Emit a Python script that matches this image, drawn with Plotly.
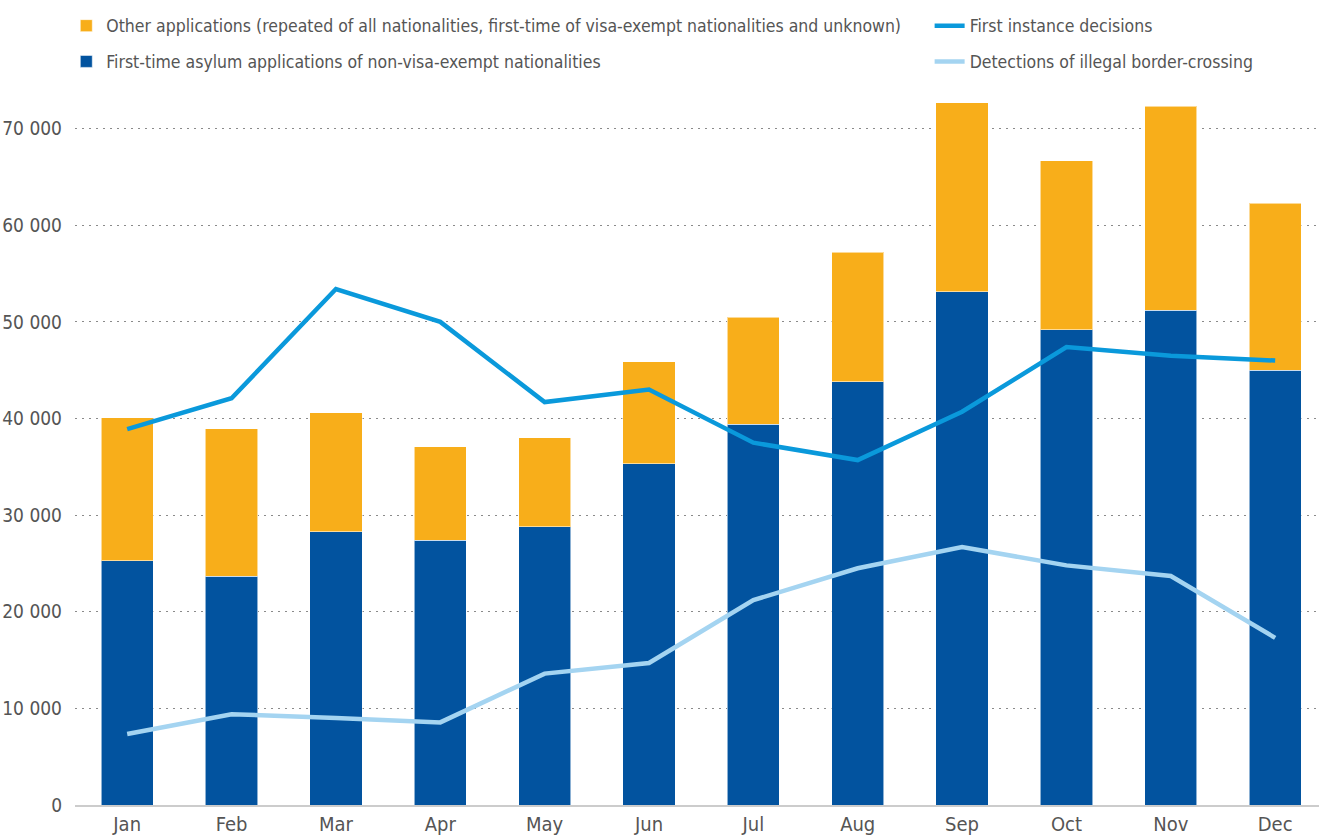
import plotly.graph_objects as go

months = ["Jan", "Feb", "Mar", "Apr", "May", "Jun", "Jul", "Aug", "Sep", "Oct", "Nov", "Dec"]

# First-time asylum applications of non-visa-exempt nationalities (bottom of stack)
first_time = [25300, 23700, 28300, 27400, 28800, 35300, 39400, 43800, 53100, 49200, 51200, 45000]
# Other applications (stacked on top)
other_apps = [14800, 15250, 12300, 9700, 9200, 10600, 11100, 13400, 19600, 17500, 21100, 17300]
# Lines
decisions = [38900, 42100, 53400, 50000, 41700, 43000, 37500, 35700, 40700, 47400, 46500, 46000]
detections = [7350, 9400, 9000, 8550, 13600, 14700, 21200, 24500, 26700, 24800, 23700, 17300]

ytick_vals = [0, 10000, 20000, 30000, 40000, 50000, 60000, 70000]
ytick_text = ["0", "10 000", "20 000", "30 000", "40 000", "50 000", "60 000", "70 000"]

name_other = "Other applications (repeated of all nationalities, first-time of visa-exempt nationalities and unknown)"
name_first = "First-time asylum applications of non-visa-exempt nationalities"
name_dec = "First instance decisions"
name_det = "Detections of illegal border-crossing"

FONT = "DejaVu Sans Condensed, Roboto, sans-serif"
TXT = "#555555"

fig = go.Figure()
fig.add_trace(go.Bar(
    x=months, y=first_time, name=name_first,
    marker=dict(color="#02539F", line=dict(color="rgba(255,255,255,0.55)", width=1)),
    legend="legend", legendrank=2, legendgroup="b",
))
fig.add_trace(go.Bar(
    x=months, y=other_apps, name=name_other,
    marker=dict(color="#F8AE1A", line=dict(color="rgba(255,255,255,0.55)", width=1)),
    legend="legend", legendrank=1, legendgroup="a",
))
fig.add_trace(go.Scatter(
    x=months, y=decisions, name=name_dec, mode="lines",
    line=dict(color="#0A99DB", width=4.5),
    legend="legend2", legendrank=1, legendgroup="c",
))
fig.add_trace(go.Scatter(
    x=months, y=detections, name=name_det, mode="lines",
    line=dict(color="#A4D4F1", width=4.5),
    legend="legend2", legendrank=2, legendgroup="d",
))

fig.update_layout(
    width=1319, height=836,
    margin=dict(l=75, r=0, t=90, b=31, autoexpand=False),
    paper_bgcolor="white", plot_bgcolor="white",
    barmode="stack", bargap=0.5,
    font=dict(family=FONT, size=19, color=TXT),
    legend=dict(
        x=-0.007, y=1.115, xanchor="left", yanchor="top",
        orientation="v", traceorder="grouped", tracegroupgap=10,
        font=dict(family=FONT, size=17.5, color=TXT),
        bgcolor="rgba(0,0,0,0)",
    ),
    legend2=dict(
        x=0.687, y=1.115, xanchor="left", yanchor="top",
        orientation="v", traceorder="grouped", tracegroupgap=10,
        font=dict(family=FONT, size=17.5, color=TXT),
        bgcolor="rgba(0,0,0,0)",
    ),
    xaxis=dict(
        type="category", range=[-0.5, 11.42],
        showgrid=False, showline=True, linecolor="#cccccc", linewidth=1.5,
        ticks="", tickfont=dict(family=FONT, size=20, color=TXT),
        automargin=False, fixedrange=True,
    ),
    yaxis=dict(
        range=[0, 74000], tickvals=ytick_vals, ticktext=ytick_text,
        showgrid=True, gridcolor="#8a8a8a", gridwidth=1, griddash="2px,5px",
        zeroline=False, showline=False, ticks="",
        ticklabelstandoff=12,
        tickfont=dict(family=FONT, size=19, color=TXT),
        automargin=False, fixedrange=True,
    ),
)

fig.write_html("out.html")
